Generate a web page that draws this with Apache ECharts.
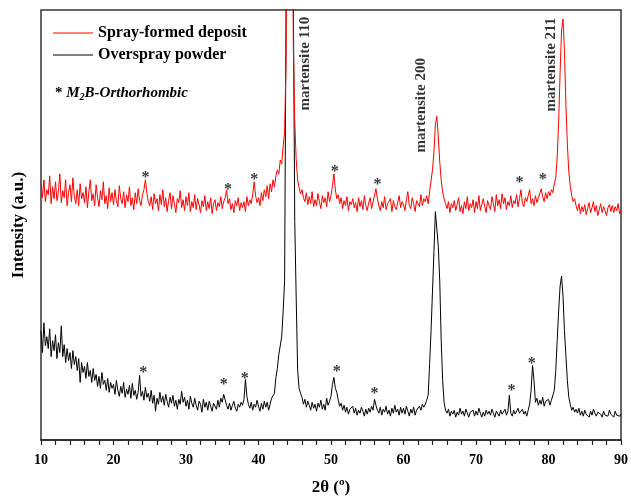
<!DOCTYPE html>
<html>
<head>
<meta charset="utf-8">
<script src="https://cdn.jsdelivr.net/npm/echarts@6/dist/echarts.min.js"></script>
<style>
html,body{margin:0;padding:0;background:#fff;}
#chart{width:631px;height:501px;}
</style>
</head>
<body>
<div id="chart"></div>
<script>
// 2θ grid: 10° to 90° in 0.2° steps
const twoThetaStart = 10;
const twoThetaStep = 0.2;

// Spray-formed deposit (red), arbitrary units
const sprayFormed = [
258,244,262,240,252, 247,266,238,255,243, 260,241,250,268,239, 251,244,262,236,249,
257,240,264,245,238, 252,236,258,243,249, 239,255,234,250,262, 241,248,236,257,244,
235,251,242,260,238, 246,233,254,240,249, 237,252,241,235,256, 243,238,250,234,247,
240,255,236,244,232, 249,238,253,241,236, 247,252,262,249,240, 236,245,232,248,238,
243,231,247,237,252, 235,244,230,241,249, 233,246,238,229,243, 239,251,234,242,231,
245,236,249,230,240, 234,247,232,243,237, 229,241,235,246,231, 240,233,244,228,238,
242,231,239,235,245, 233,240,244,252,238, 243,232,238,229,241, 236,244,231,239,234,
240,230,245,236,242, 238,247,260,246,239, 244,236,249,241,252, 245,256,243,258,250,
262,255,266,272,268, 282,278,296,310,380, 700,900,900,700,400, 320,282,262,254,248,
252,244,240,249,237, 245,238,250,235,242, 236,248,240,233,246, 239,244,235,250,240,
246,256,268,252,243, 247,238,244,233,241, 236,245,231,240,237, 243,234,239,230,244,
235,241,232,246,236, 231,239,244,233,240, 238,253,243,236,231, 240,234,245,232,238,
236,243,230,241,235, 232,239,246,234,240, 237,231,242,250,236, 233,244,238,230,241,
239,235,247,236,243, 240,246,238,250,248, 272,290,318,326,305, 280,262,250,243,238,
233,240,229,238,234, 241,231,237,244,230, 236,228,240,233,245, 231,238,234,242,229,
240,233,246,231,237, 243,235,229,241,236, 232,245,238,230,247, 236,242,233,248,238,
244,232,240,236,246, 234,241,238,247,235, 243,252,238,235,244, 240,246,252,238,243,
236,246,239,244,248, 253,245,240,249,243, 250,246,252,249,258, 264,285,320,370,412,
424,392,338,298,270, 256,246,240,243,236, 231,238,228,235,230, 237,227,233,239,229,
234,240,230,236,226, 232,238,229,235,231, 226,234,237,230,236, 229,235,231,238,228,
232
];

// Overspray powder (black), arbitrary units
const overspray = [
110,88,118,95,104, 92,112,84,100,90, 106,82,98,88,115, 84,96,78,92,80,
88,72,90,76,84, 70,82,58,78,68, 74,62,78,64,70, 58,72,60,66,54,
64,52,68,56,60, 50,62,48,58,52, 56,46,60,50,44, 54,47,58,43,51,
46,55,42,57,45, 50,41,48,65,44, 49,40,53,43,47, 39,50,37,45,29,
42,36,48,38,44, 35,46,39,33,43, 37,45,34,40,31, 41,36,49,38,43,
34,40,31,44,37, 33,42,35,30,39, 36,28,41,33,38, 30,39,34,29,37,
35,31,40,33,42, 38,46,44,35,31, 37,30,35,39,32, 29,36,33,38,35,
41,61,44,36,32, 38,30,36,33,40, 34,29,37,31,39, 33,38,30,36,42,
40,47,63,72,86, 88,104,130,160,430, 800,1000,1000,800,450, 220,143,70,52,47,
43,36,41,33,39, 35,30,38,32,36, 29,37,33,40,31, 36,30,42,35,39,
44,56,63,52,48, 40,34,37,30,35, 28,33,26,31,29, 34,27,32,25,30,
27,33,29,24,31, 26,32,28,34,30, 41,35,30,27,33, 25,31,28,34,26,
30,24,32,27,35, 28,31,25,33,27, 32,26,34,29,24, 31,27,33,25,30,
28,34,30,36,33, 36,40,45,76,110, 150,190,230,232,195, 160,100,60,38,30,
27,31,24,29,26, 30,23,28,25,32, 26,29,24,31,27, 23,28,26,30,24,
29,25,32,27,23, 28,24,30,26,29, 25,31,27,23,29, 27,24,30,26,28,
31,25,29,45,27, 24,30,26,28,32, 27,25,31,26,29, 24,30,36,50,75,
60,38,42,35,40, 36,43,34,39,37, 41,35,40,42,50, 70,100,130,155,165,
145,110,85,60,43, 36,30,33,28,31, 27,32,25,29,24, 30,26,28,23,29,
25,31,27,24,28, 30,26,23,29,25, 27,24,30,26,28, 23,29,25,27,24,
26
];

// M2B star markers: [2θ, intensity]
const starsSpray = [[24.4,268],[35.8,256],[39.4,266],[50.5,274],[56.4,261],[76.0,263],[79.2,266]];
const starsPowder = [[24.1,72],[35.2,60],[38.1,66],[50.8,73],[56.0,50],[74.9,54],[77.7,81]];

// Peak annotations
const peakNames = ['martensite 110','martensite 200','martensite 211'];
const peakLabelX = [46.4, 62.4, 80.3];
const peakLabelY = [379, 337, 378];

const xTicks = {min: 10, max: 90, interval: 10};

function toPairs(arr){
  return arr.map((v,i)=>[+(twoThetaStart + i*twoThetaStep).toFixed(1), v]);
}

const serif = '"Liberation Serif", "Times New Roman", serif';

const chart = echarts.init(document.getElementById('chart'), null, {renderer:'canvas'});
chart.setOption({
  animation: false,
  backgroundColor: '#fff',
  grid: {left: 41, right: 7, top: 10, bottom: 58, show: true, borderColor: '#333', borderWidth: 1.5, backgroundColor: 'transparent'},
  legend: {
    data: ['Spray-formed deposit','Overspray powder'],
    orient: 'vertical', left: 48, top: 20,
    icon: 'rect', itemWidth: 40, itemHeight: 1.2, itemGap: 6, itemTextGap: 5,
    textStyle: {fontFamily: serif, fontWeight: 'bold', fontSize: 16, color: '#000'}
  },
  xAxis: {
    type: 'value', min: xTicks.min, max: xTicks.max, interval: xTicks.interval,
    name: '2θ (º)', nameLocation: 'middle', nameGap: 39,
    nameTextStyle: {fontFamily: serif, fontWeight: 'bold', fontSize: 17, color: '#000'},
    axisLine: {show: true, lineStyle: {color: '#222', width: 1.5}},
    axisTick: {show: true, inside: false, length: 5, lineStyle: {color: '#222', width: 1.2}},
    minorTick: {show: true, splitNumber: 5, length: 5, lineStyle: {color: '#222', width: 1.2}},
    axisLabel: {fontFamily: serif, fontWeight: 'bold', fontSize: 14, color: '#000', margin: 13},
    splitLine: {show: false}
  },
  yAxis: {
    type: 'value', min: 0, max: 433,
    name: 'Intensity (a.u.)', nameLocation: 'middle', nameGap: 14,
    nameTextStyle: {fontFamily: serif, fontWeight: 'bold', fontSize: 17, color: '#000'},
    axisLine: {show: false}, axisTick: {show: false}, axisLabel: {show: false}, splitLine: {show: false}
  },
  graphic: [{
    type: 'text', left: 55, top: 86,
    style: {
      text: '{s|* }{i|M}{sub|2}{i|B-Orthorhombic}',
      rich: {
        s: {fontFamily: serif, fontWeight: 'bold', fontSize: 15, fill: '#000'},
        i: {fontFamily: serif, fontWeight: 'bold', fontStyle: 'italic', fontSize: 15, fill: '#000'},
        sub: {fontFamily: serif, fontWeight: 'bold', fontStyle: 'italic', fontSize: 10, fill: '#000', padding: [8,0,0,0]}
      }
    }
  }],
  series: [
    {
      name: 'Spray-formed deposit', type: 'line', data: toPairs(sprayFormed),
      symbol: 'none', showSymbol: false, clip: true,
      lineStyle: {color: '#ff0000', width: 1}, itemStyle: {color: '#ff0000'}, z: 3
    },
    {
      name: 'Overspray powder', type: 'line', data: toPairs(overspray),
      symbol: 'none', showSymbol: false, clip: true,
      lineStyle: {color: '#000', width: 1}, itemStyle: {color: '#000'}, z: 2
    },
    {
      name: 'stars', type: 'scatter', data: starsSpray.concat(starsPowder),
      symbolSize: 1, itemStyle: {color: 'transparent'}, silent: true,
      label: {show: true, formatter: '*', position: 'inside', offset: [0, 4],
        fontFamily: serif, fontWeight: 'bold', fontSize: 16, color: '#000'}
    },
    {
      name: 'peaks', type: 'scatter',
      data: peakNames.map((n,i)=>({value: [peakLabelX[i], peakLabelY[i]], name: n})),
      symbolSize: 1, itemStyle: {color: 'transparent'}, silent: true,
      label: {show: true, formatter: p => p.name, position: 'inside', rotate: 90,
        align: 'center', verticalAlign: 'middle',
        fontFamily: serif, fontWeight: 'bold', fontSize: 15, color: '#000'}
    }
  ]
});
</script>
</body>
</html>
